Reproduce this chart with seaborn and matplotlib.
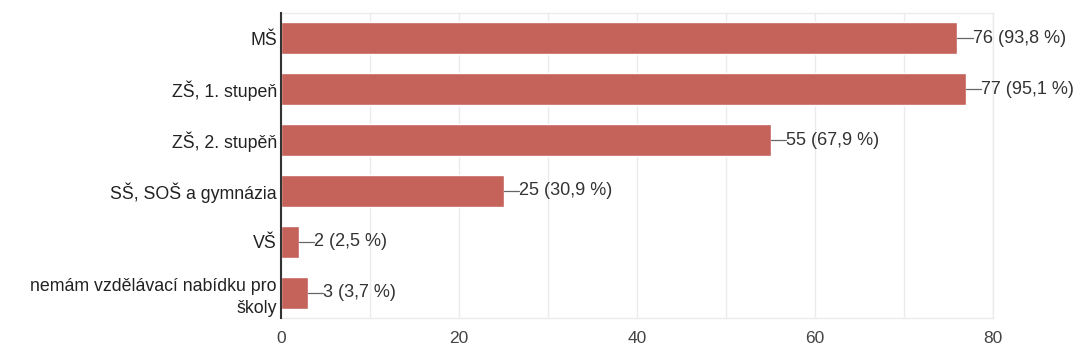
import matplotlib
matplotlib.use("Agg")
import matplotlib.pyplot as plt
import seaborn as sns
import pandas as pd

categories = ["MŠ", "ZŠ, 1. stupeň", "ZŠ, 2. stupěň", "SŠ, SOŠ a gymnázia", "VŠ",
              "nemám vzdělávací nabídku pro\nškoly"]
counts = [76, 77, 55, 25, 2, 3]
percents = ["93,8", "95,1", "67,9", "30,9", "2,5", "3,7"]
xticks = [0, 20, 40, 60, 80]

sns.set_theme(style="white")
plt.rcParams["font.family"] = ["Liberation Sans", "DejaVu Sans"]

df = pd.DataFrame({"cat": categories, "n": counts})

fig = plt.figure(figsize=(10.88, 3.49), dpi=100)
ax = fig.add_axes([0.2583, 0.0888, 0.6544, 0.874])

bar_color = "#c5625a"
sns.barplot(data=df, x="n", y="cat", orient="h", color=bar_color, saturation=1,
            width=0.63, ax=ax, zorder=3)

ax.set_xlim(0, 80)
ax.set_ylim(5.5, -0.5)
ax.set_xticks(xticks)
ax.set_xticks(range(10, 80, 20), minor=True)
ax.grid(axis="x", which="both", color="#ebebeb", linewidth=1, zorder=0)
ax.set_xlabel("")
ax.set_ylabel("")

for side in ["top", "right", "bottom"]:
    ax.spines[side].set_color("#ebebeb")
    ax.spines[side].set_linewidth(1)
ax.spines["left"].set_color("#333333")
ax.spines["left"].set_linewidth(1.5)
ax.spines["left"].set_zorder(5)

ax.tick_params(axis="x", which="both", length=0, pad=9, labelsize=12.5, labelcolor="#444444")
ax.tick_params(axis="y", length=0, pad=3, labelsize=12.8, labelcolor="#222222")
for lbl in ax.get_yticklabels():
    lbl.set_linespacing(1.45)

for i, (n, p) in enumerate(zip(counts, percents)):
    ax.plot([n, n + 1.7], [i, i], color="#666666", linewidth=0.9, zorder=4)
    ax.text(n + 1.7, i, f"{n} ({p} %)", va="center", ha="left",
            fontsize=13, color="#333333", zorder=4)

fig.savefig("out.png", dpi=100)
